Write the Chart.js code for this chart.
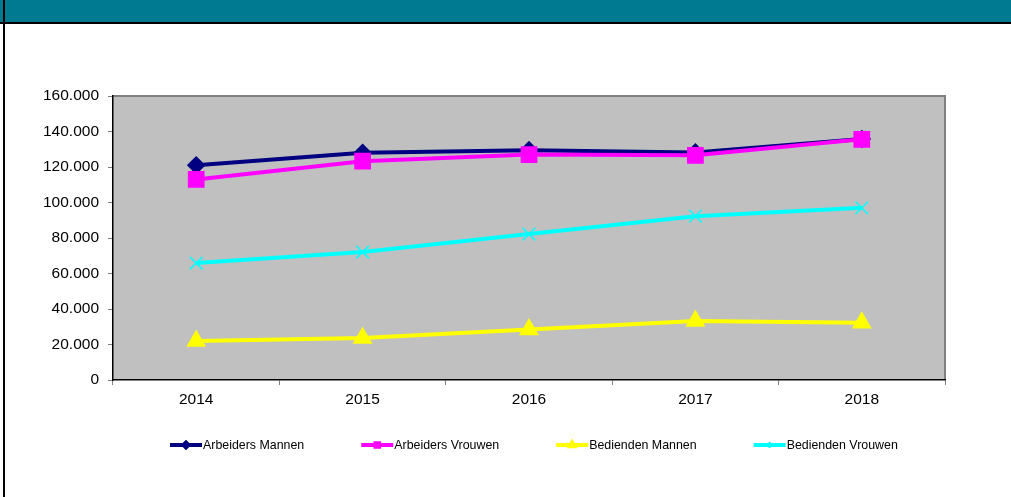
<!DOCTYPE html>
<html>
<head>
<meta charset="utf-8">
<script src="https://cdn.jsdelivr.net/npm/chart.js@4.4.1/dist/chart.umd.min.js"></script>
<style>
    body { margin: 0; background: #fff; width: 1011px; height: 497px; overflow: hidden; position: relative; }
    #kop { position: absolute; left: 0; top: 0; width: 1011px; height: 22px; background: #007A91; border-bottom: 2px solid #000; }
    #rand { position: absolute; left: 3px; top: 0; width: 2px; height: 497px; background: #000; }
    #vak { position: absolute; left: 5px; top: 24px; width: 1006px; height: 473px; }
</style>
</head>
<body>
<div id="kop"></div>
<div id="rand"></div>
<div id="vak"><canvas id="grafiek"></canvas></div>

<script>
// data
const jaren = ['2014', '2015', '2016', '2017', '2018'];
const arbeidersMannen = [121000, 128000, 129500, 128200, 135800];
const arbeidersVrouwen = [113000, 123300, 127000, 126600, 135600];
const bediendenMannen = [22000, 23600, 28500, 33200, 32200];
const bediendenVrouwen = [65900, 72100, 82200, 92300, 97000];
const yTicks = [0, 20000, 40000, 60000, 80000, 100000, 120000, 140000, 160000];

function punten(getal) {
    return String(getal).replace(/\B(?=(\d{3})+(?!\d))/g, '.');
}

// grijze achtergrond van het plotvlak
const achtergrond = {
    id: 'achtergrond',
    beforeDraw(chart) {
        const { ctx, chartArea: a } = chart;
        ctx.save();
        ctx.fillStyle = '#C0C0C0';
        ctx.fillRect(a.left, a.top, a.right - a.left, a.bottom - a.top);
        ctx.strokeStyle = '#808080';
        ctx.lineWidth = 2;
        ctx.beginPath();
        ctx.moveTo(a.left, a.top);
        ctx.lineTo(a.right, a.top);
        ctx.lineTo(a.right, a.bottom);
        ctx.stroke();
        ctx.restore();
    }
};

// legenda onderaan, zoals in Excel
const legenda = {
    id: 'legenda',
    afterDraw(chart) {
        const ctx = chart.ctx;
        const y = 421;
        let x = 165;
        ctx.save();
        ctx.font = '12.4px "Liberation Sans", Arial, sans-serif';
        ctx.textBaseline = 'middle';
        chart.data.datasets.forEach(ds => {
            ctx.strokeStyle = ds.borderColor;
            ctx.lineWidth = 4;
            ctx.beginPath();
            ctx.moveTo(x, y);
            ctx.lineTo(x + 32, y);
            ctx.stroke();
            ctx.fillStyle = ds.pointBackgroundColor;
            ctx.strokeStyle = ds.pointBorderColor;
            Chart.helpers.drawPoint(ctx, {
                pointStyle: ds.pointStyle,
                radius: 2.5,
                borderWidth: 1
            }, x + 16, y);
            ctx.fillStyle = '#000';
            ctx.fillText(ds.label, x + 33, y + 1);
            x += 33 + ctx.measureText(ds.label).width + 57;
        });
        ctx.restore();
    }
};

const canva = document.getElementById('grafiek').getContext('2d');
const grafiek = new Chart(canva, {
    type: 'line',
    data: {
        labels: jaren,
        datasets: [{
            label: 'Arbeiders Mannen',
            data: arbeidersMannen,
            borderColor: '#000080',
            backgroundColor: '#000080',
            pointBackgroundColor: '#000080',
            pointBorderColor: '#000080',
            pointStyle: 'rectRot',
            pointRadius: 6.5,
            borderWidth: 4,
            order: 1
        }, {
            label: 'Arbeiders Vrouwen',
            data: arbeidersVrouwen,
            borderColor: '#FF00FF',
            backgroundColor: '#FF00FF',
            pointBackgroundColor: '#FF00FF',
            pointBorderColor: '#FF00FF',
            pointStyle: 'rect',
            pointRadius: 9,
            borderWidth: 4,
            order: 0
        }, {
            label: 'Bedienden Mannen',
            data: bediendenMannen,
            borderColor: '#FFFF00',
            backgroundColor: '#FFFF00',
            pointBackgroundColor: '#FFFF00',
            pointBorderColor: '#FFFF00',
            pointStyle: 'triangle',
            pointRadius: 7.5,
            borderWidth: 4,
            order: 2
        }, {
            label: 'Bedienden Vrouwen',
            data: bediendenVrouwen,
            borderColor: '#00FFFF',
            backgroundColor: '#00FFFF',
            pointBackgroundColor: '#00FFFF',
            pointBorderColor: '#00FFFF',
            pointStyle: 'crossRot',
            pointRadius: 9,
            pointBorderWidth: 1.5,
            borderWidth: 4,
            order: 3
        }]
    },
    options: {
        responsive: true,
        maintainAspectRatio: false,
        animation: false,
        layout: { padding: { top: 72, right: 66, left: 0, bottom: 0 } },
        plugins: {
            legend: { display: false },
            tooltip: { enabled: false }
        },
        scales: {
            x: {
                offset: true,
                grid: { offset: true, drawOnChartArea: false, tickLength: 5, color: '#808080' },
                border: { color: '#000', width: 1.5 },
                ticks: {
                    color: '#000',
                    padding: 5,
                    font: { family: '"Liberation Sans", Arial, sans-serif', size: 15.5 }
                },
                afterFit(scale) { scale.height = 117; }
            },
            y: {
                min: 0,
                max: 160000,
                afterBuildTicks(scale) { scale.ticks = yTicks.map(v => ({ value: v })); },
                grid: { drawOnChartArea: false, tickLength: 5, color: '#808080' },
                border: { color: '#000', width: 1.5 },
                ticks: {
                    color: '#000',
                    padding: 9,
                    font: { family: '"Liberation Sans", Arial, sans-serif', size: 15.5 },
                    callback: v => punten(v)
                },
                afterFit(scale) { scale.width = 108; }
            }
        }
    },
    plugins: [achtergrond, legenda]
});
</script>
</body>
</html>
